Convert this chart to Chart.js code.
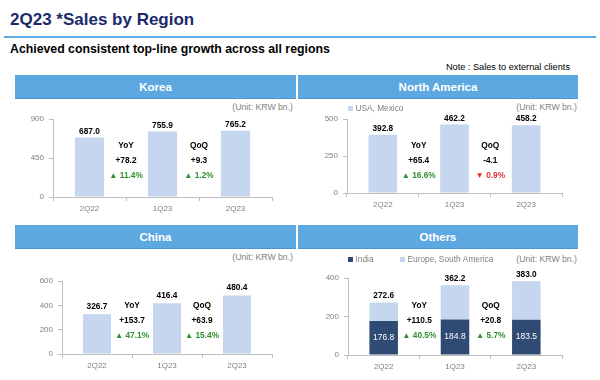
<!DOCTYPE html>
<html><head><meta charset="utf-8">
<script src="https://cdn.jsdelivr.net/npm/chart.js@4/dist/chart.umd.min.js"></script>
<style>
body{margin:0;width:600px;height:380px;background:#fff;font-family:"Liberation Sans",Arial,sans-serif;position:relative;overflow:hidden}
.abs{position:absolute;white-space:nowrap}
#title{left:10px;top:9px;font-size:17px;line-height:22px;font-weight:bold;color:#1B2A6B}
#rule{left:4px;top:36px;width:592px;height:2px;background:#64ABE2}
#sub{left:10px;top:42px;font-size:12.3px;line-height:14px;font-weight:bold;color:#000}
#note{right:30px;top:62px;font-size:9.2px;line-height:10px;color:#000}
.hdr{position:absolute;height:24px;line-height:24px;background:#5EA8E1;color:#fff;font-weight:bold;font-size:11.5px;text-align:center;border-bottom:1px solid #4E92CE;box-sizing:border-box}
.unit{position:absolute;font-size:8.7px;line-height:10px;color:#7F7F7F;text-align:right;white-space:nowrap}
canvas{position:absolute}
</style></head><body>
<div id="title" class="abs">2Q23 *Sales by Region</div>
<div id="rule" class="abs"></div>
<div id="sub" class="abs">Achieved consistent top-line growth across all regions</div>
<div id="note" class="abs">Note : Sales to external clients</div>

<div class="hdr" style="left:15px;top:75px;width:281px">Korea</div>
<div class="hdr" style="left:298px;top:75px;width:280px">North America</div>
<div class="hdr" style="left:15px;top:225px;width:281px">China</div>
<div class="hdr" style="left:298px;top:225px;width:280px">Others</div>

<div class="unit" style="right:307px;top:102px">(Unit: KRW bn.)</div>
<div class="unit" style="right:23px;top:102px">(Unit: KRW bn.)</div>
<div class="unit" style="right:307px;top:252px">(Unit: KRW bn.)</div>
<div class="unit" style="right:23px;top:254px">(Unit: KRW bn.)</div>

<canvas id="cKorea" width="281" height="120" style="left:15px;top:100px"></canvas>
<canvas id="cNA" width="280" height="120" style="left:298px;top:100px"></canvas>
<canvas id="cChina" width="281" height="130" style="left:15px;top:250px"></canvas>
<canvas id="cOthers" width="280" height="130" style="left:298px;top:250px"></canvas>

<script>
// ---- data ----
const categories = ['2Q22', '1Q23', '2Q23'];
const changeLabels = ['YoY', 'QoQ'];

const koreaSales = [687.0, 755.9, 765.2];
const koreaDelta = ['+78.2', '+9.3'];
const koreaPct = [11.4, 1.2];

const naSales = [392.8, 462.2, 458.2];
const naDelta = ['+65.4', '-4.1'];
const naPct = [16.6, -0.9];

const chinaSales = [326.7, 416.4, 480.4];
const chinaDelta = ['+153.7', '+63.9'];
const chinaPct = [47.1, 15.4];

const othersIndia = [176.8, 184.8, 183.5];
const othersEuropeSA = [95.8, 177.4, 199.5];
const othersTotal = [272.6, 362.2, 383.0];
const othersDelta = ['+110.5', '+20.8'];
const othersPct = [40.5, 5.7];

const koreaAxis = {max: 900, step: 450};
const naAxis = {max: 500, step: 250};
const chinaAxis = {max: 600, step: 200};
const othersAxis = {max: 400, step: 200};

// ---- style ----
const FONT = '"Liberation Sans", Arial, sans-serif';
const AXIS = '#BFBFBF';
const TICK = '#7F7F7F';
const LIGHT = '#C5D6EE';
const DARK = '#2F4A73';
const GREEN = '#2F8F2F';
const RED = '#E03030';

function build(id, p) {
  const datasets = p.series.map(s => ({
    label: s.label, data: s.data, backgroundColor: s.color, borderWidth: 0,
    barPercentage: 0.4, categoryPercentage: 1
  }));
  const ann = {
    id: 'ann_' + id,
    afterDatasetsDraw(chart) {
      const ctx = chart.ctx, area = chart.chartArea, xs = chart.scales.x;
      ctx.save();
      ctx.textAlign = 'center';
      ctx.textBaseline = 'middle';
      const last = chart.getDatasetMeta(chart.data.datasets.length - 1);
      ctx.font = 'bold 8.3px ' + FONT;
      ctx.fillStyle = '#000';
      last.data.forEach((el, i) => ctx.fillText(p.totals[i].toFixed(1), el.x, el.y - p.gap));
      if (p.inside) {
        const m0 = chart.getDatasetMeta(0);
        ctx.font = '8.5px ' + FONT;
        ctx.fillStyle = '#fff';
        m0.data.forEach((el, i) => ctx.fillText(p.series[0].data[i].toFixed(1), el.x, (el.y + el.base) / 2));
      }
      for (let k = 0; k < 2; k++) {
        const x = (xs.getPixelForValue(k) + xs.getPixelForValue(k + 1)) / 2;
        const y = p.chgY;
        ctx.font = 'bold 8.3px ' + FONT;
        ctx.fillStyle = '#000';
        ctx.fillText(changeLabels[k], x, y);
        ctx.fillText(p.delta[k], x, y + 15);
        const v = p.pct[k];
        ctx.fillStyle = v >= 0 ? GREEN : RED;
        ctx.fillText((v >= 0 ? '\u25B2 ' : '\u25BC ') + Math.abs(v).toFixed(1) + '%', x, y + 29.5);
      }
      if (p.legend) {
        ctx.textAlign = 'left';
        ctx.font = '8.3px ' + FONT;
        chart.data.datasets.forEach((d, i) => {
          const lx = area.left + p.legendX[i];
          ctx.fillStyle = d.backgroundColor;
          ctx.fillRect(lx, p.legendY - 2.5, 5, 5);
          ctx.fillStyle = TICK;
          ctx.fillText(d.label, lx + 7.5, p.legendY);
        });
      }
      ctx.restore();
    }
  };
  new Chart(document.getElementById(id), {
    type: 'bar',
    data: {labels: categories, datasets},
    options: {
      responsive: false, animation: false, devicePixelRatio: 1,
      layout: {padding: {top: p.padTop, right: p.padRight, left: 0, bottom: 0}},
      plugins: {legend: {display: false}, tooltip: {enabled: false}},
      scales: {
        x: {
          stacked: true,
          grid: {offset: true, drawOnChartArea: false, tickLength: 4, color: AXIS},
          border: {color: AXIS},
          ticks: {font: {size: 8, family: FONT}, color: TICK, padding: 3, maxRotation: 0},
          afterFit: s => { s.height = p.xh; }
        },
        y: {
          stacked: true, min: 0, max: p.axis.max,
          grid: {drawOnChartArea: false, tickLength: 4, color: AXIS},
          border: {color: AXIS},
          ticks: {stepSize: p.axis.step, font: {size: 8, family: FONT}, color: TICK, padding: 5},
          afterFit: s => { s.width = p.yw; }
        }
      }
    },
    plugins: [ann]
  });
}

build('cKorea', {
  series: [{label: 'Korea', data: koreaSales, color: LIGHT}],
  totals: koreaSales, delta: koreaDelta, pct: koreaPct, axis: koreaAxis,
  padTop: 19, padRight: 24, yw: 38, xh: 23, gap: 6, chgY: 46
});
build('cNA', {
  series: [{label: 'USA, Mexico', data: naSales, color: LIGHT}],
  totals: naSales, delta: naDelta, pct: naPct, axis: naAxis,
  padTop: 19, padRight: 16, yw: 49, xh: 27, gap: 6, chgY: 46,
  legend: true, legendX: [1], legendY: 8.5
});
build('cChina', {
  series: [{label: 'China', data: chinaSales, color: LIGHT}],
  totals: chinaSales, delta: chinaDelta, pct: chinaPct, axis: chinaAxis,
  padTop: 31, padRight: 24, yw: 47, xh: 26, gap: 7.5, chgY: 56
});
build('cOthers', {
  series: [
    {label: 'India', data: othersIndia, color: DARK},
    {label: 'Europe, South America', data: othersEuropeSA, color: LIGHT}
  ],
  totals: othersTotal, delta: othersDelta, pct: othersPct, axis: othersAxis,
  padTop: 28, padRight: 16, yw: 50, xh: 25, gap: 7, chgY: 56, inside: true,
  legend: true, legendX: [0, 52], legendY: 9.5
});
</script>
</body></html>
